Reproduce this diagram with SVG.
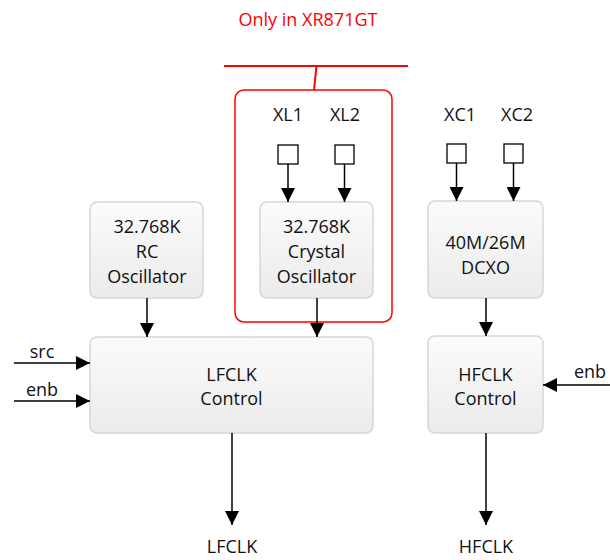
<svg xmlns="http://www.w3.org/2000/svg" width="610" height="560" viewBox="0 0 610 560">
<defs>
<linearGradient id="g" x1="0" y1="0" x2="0" y2="1">
<stop offset="0" stop-color="#fbfbfb"/>
<stop offset="1" stop-color="#ebebeb"/>
</linearGradient>
<marker id="ah" viewBox="0 0 14 14" refX="14" refY="7" markerWidth="14" markerHeight="14" markerUnits="userSpaceOnUse" orient="auto">
<path d="M0,0 L14,7 L0,14 Z" fill="#000"/>
</marker>
</defs>
<style>
.box{fill:url(#g);stroke:#d6d6d6;stroke-width:1.5}
.t{font-family:"Open Sans","Liberation Sans",sans-serif;font-size:18px;fill:#111;text-anchor:middle}
.c{stroke:#000;stroke-width:1.5;fill:none;marker-end:url(#ah)}
.pin{fill:#fff;stroke:#000;stroke-width:1.3}
</style>
<rect width="610" height="560" fill="#fff"/>
<g id="xr871gt-region">
<text x="308" y="26" class="t" style="fill:#ff0000">Only in XR871GT</text>
<line x1="224" y1="66" x2="408" y2="66" stroke="#ff0000" stroke-width="2"/>
<line x1="316.5" y1="66" x2="314" y2="90" stroke="#ff0000" stroke-width="2"/>
<rect x="235" y="90" width="157" height="232" rx="9" fill="none" stroke="#ff0000" stroke-width="1.5"/>
</g>
<g id="pins">
<text x="288" y="121" class="t">XL1</text>
<text x="345" y="121" class="t">XL2</text>
<rect x="278" y="145" width="20" height="19" class="pin"/>
<rect x="335" y="145" width="19" height="19" class="pin"/>
<text x="460" y="121" class="t">XC1</text>
<text x="517" y="121" class="t">XC2</text>
<rect x="447" y="144" width="19" height="19" class="pin"/>
<rect x="504" y="144" width="19" height="19" class="pin"/>
</g>
<g id="rc-osc">
<rect x="90" y="202" width="113" height="96" rx="7" class="box"/>
<text x="147" y="233" class="t">32.768K</text>
<text x="147" y="258" class="t">RC</text>
<text x="147" y="283" class="t">Oscillator</text>
</g>
<g id="crystal-osc">
<rect x="260" y="202" width="113" height="96" rx="7" class="box"/>
<text x="316.5" y="233" class="t">32.768K</text>
<text x="316.5" y="258" class="t">Crystal</text>
<text x="316.5" y="283" class="t">Oscillator</text>
</g>
<g id="dcxo">
<rect x="428" y="201" width="115" height="97" rx="7" class="box"/>
<text x="485.5" y="249" class="t">40M/26M</text>
<text x="485.5" y="274" class="t">DCXO</text>
</g>
<g id="lfclk-control">
<rect x="90" y="337" width="283" height="96" rx="7" class="box"/>
<text x="231.5" y="381" class="t">LFCLK</text>
<text x="231.5" y="405" class="t">Control</text>
</g>
<g id="hfclk-control">
<rect x="428" y="336" width="115" height="97" rx="7" class="box"/>
<text x="485.5" y="381" class="t">HFCLK</text>
<text x="485.5" y="405" class="t">Control</text>
</g>
<g id="labels">
<text x="42" y="358" class="t">src</text>
<text x="42" y="396" class="t">enb</text>
<text x="590" y="378" class="t">enb</text>
<text x="232" y="553" class="t">LFCLK</text>
<text x="486" y="553" class="t">HFCLK</text>
</g>
<g id="connectors">
<line x1="288" y1="164" x2="288" y2="202" class="c"/>
<line x1="344.5" y1="164" x2="344.5" y2="202" class="c"/>
<line x1="456.5" y1="163" x2="456.5" y2="201" class="c"/>
<line x1="513.5" y1="163" x2="513.5" y2="201" class="c"/>
<line x1="147" y1="298" x2="147" y2="337" class="c"/>
<line x1="317" y1="298" x2="317" y2="337" class="c"/>
<line x1="486" y1="298" x2="486" y2="336" class="c"/>
<line x1="14" y1="363" x2="90" y2="363" class="c"/>
<line x1="14" y1="401" x2="90" y2="401" class="c"/>
<line x1="610" y1="385" x2="543" y2="385" class="c"/>
<line x1="232" y1="433" x2="232" y2="525" class="c"/>
<line x1="486" y1="433" x2="486" y2="525" class="c"/>
</g>
</svg>
